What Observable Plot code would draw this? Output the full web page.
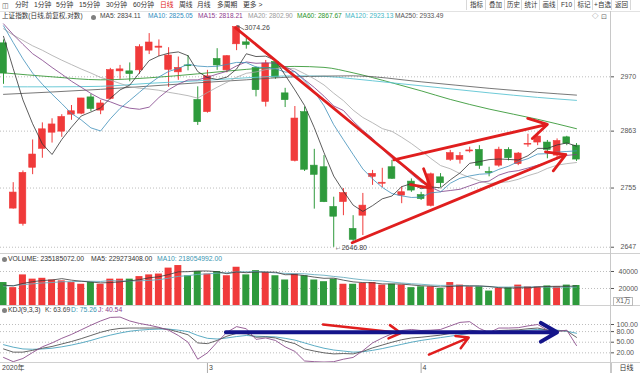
<!DOCTYPE html>
<html><head><meta charset="utf-8">
<script src="https://cdn.jsdelivr.net/npm/d3@7"></script>
<script src="https://cdn.jsdelivr.net/npm/@observablehq/plot@0.6"></script>
<style>
html,body{margin:0;padding:0;background:#fff;}
#root{position:relative;width:640px;height:373px;overflow:hidden;background:#fff;font-family:"Liberation Sans","Noto Sans CJK SC",sans-serif;}
.t{position:absolute;white-space:nowrap;line-height:1;}
.hl{position:absolute;height:1px;background:#d0d0d0;}
.vl{position:absolute;width:1px;background:#c8c8c8;}
.cell{position:absolute;top:0;height:10px;border-left:1px solid #d8d8d8;font-size:6.5px;line-height:10px;text-align:center;color:#333;}
.ico{position:absolute;width:5px;height:5px;border-radius:50%;background:#808080;}
svg{position:absolute;left:0;}
</style></head><body><div id="root"></div>
<script>
// ---------- DATA ----------
const opens  = [3038,2717,2689,2793,2829,2860,2862,2895,2897,2929,2903,2926,2981,2981,2983,3023,3029,2984,2979,2993,2924,2900,3006,2983,3036,3040,2988,2920,3000,2937,2806,2900,2797,2794,2720,2729,2680,2704,2776,2763,2794,2741,2767,2742,2722,2775,2808,2808,2824,2827,2785,2797,2827,2800,2837,2841,2841,2816,2851,2835];
const highs  = [3045,2765,2787,2846,2879,2887,2895,2913,2927,2935,2923,2987,2993,2998,3035,3058,3045,3029,3010,3013,2950,2983,3027,3013,3074.26,3048,2990,3003,3005,2947,2911,2910,2828,2816,2738,2754,2704,2745,2788,2792,2807,2757,2772,2747,2783,2782,2826,2822,2832,2835,2794,2832,2831,2822,2857,2858,2845,2848,2853,2839];
const lows   = [2955,2716,2685,2780,2811,2840,2851,2884,2895,2901,2895,2924,2965,2960,2975,3015,3011,2949,2963,2982,2874,2898,2983,2978,3023,3026,2930,2910,2965,2909,2804,2786,2716,2728,2646.80,2704,2654,2668,2760,2756,2771,2726,2747,2732,2720,2756,2805,2800,2821,2790,2776,2794,2806,2797,2832,2835,2810,2812,2835,2805];
const closes = [2976.53,2746.61,2783.29,2818.09,2866.51,2875.96,2890.49,2901.67,2926.90,2906.07,2917.01,2983.62,2984.97,2975.40,3030.15,3039.67,3031.23,3013.05,2987.93,2991.33,2880.30,2970.93,2992.90,3011.67,3071.68,3034.51,2943.29,2996.76,2968.52,2923.49,2887.43,2789.25,2779.64,2728.76,2702.13,2745.62,2660.17,2722.44,2781.59,2764.91,2772.20,2747.21,2750.30,2734.52,2780.64,2763.99,2820.76,2815.37,2825.90,2796.63,2783.05,2827.28,2811.17,2819.94,2838.49,2852.55,2827.01,2843.98,2838.80,2808.53];
const ma5  = [3052.4,2986.6,2924.0,2877.2,2838.4,2818.2,2846.8,2870.6,2892.4,2900.2,2908.4,2927.2,2943.8,2953.4,2978.2,3002.8,3012.2,3017.8,3020.4,3012.6,2980.6,2968.6,2964.6,2969.4,2985.6,3016.6,3011.0,3011.8,3003.2,2973.4,2943.8,2913.0,2869.6,2821.6,2777.4,2749.2,2723.4,2711.8,2722.4,2735.0,2740.2,2757.6,2763.2,2753.8,2757.0,2755.4,2770.2,2783.2,2801.4,2804.6,2808.4,2809.6,2808.8,2807.6,2815.8,2829.8,2829.8,2836.4,2840.2,2834.11];
const ma10 = [3074.1,3039.6,3006.3,2977.4,2955.1,2935.3,2916.7,2897.3,2884.8,2869.3,2863.3,2887.0,2907.2,2922.9,2939.2,2955.6,2969.7,2980.8,2986.9,2995.4,2991.7,2990.4,2991.2,2994.9,2999.1,2998.6,2989.8,2988.2,2986.3,2979.5,2980.2,2962.0,2940.7,2912.4,2875.4,2846.5,2818.2,2790.7,2772.0,2756.2,2744.7,2740.5,2737.5,2738.1,2746.0,2747.8,2763.9,2773.2,2777.6,2780.8,2781.9,2789.9,2796.0,2804.5,2810.2,2819.1,2819.7,2822.6,2823.9,2825.05];
const ma15 = [3078.3,3055.9,3035.9,3016.7,3003.4,2988.8,2975.3,2961.1,2949.1,2936.8,2926.3,2920.2,2912.8,2907.7,2905.6,2909.8,2928.7,2944.1,2955.4,2963.7,2963.9,2969.3,2975.4,2981.1,2992.1,3000.0,2997.3,2998.1,2997.7,2990.5,2980.3,2964.2,2948.7,2931.4,2912.1,2903.2,2882.5,2864.4,2849.1,2828.6,2811.1,2798.0,2781.5,2765.9,2756.5,2748.3,2750.4,2752.7,2759.2,2765.5,2768.0,2779.1,2785.1,2787.6,2792.5,2797.9,2803.2,2809.5,2816.4,2818.21];
const ma20 = [3068.1,3055.1,3044.0,3032.9,3023.8,3013.3,3003.6,2994.6,2985.7,2977.6,2968.7,2963.3,2956.8,2950.2,2947.2,2945.5,2943.2,2939.1,2935.9,2932.4,2927.5,2938.7,2949.2,2958.9,2969.2,2977.1,2979.8,2984.5,2986.6,2987.5,2986.0,2976.2,2966.0,2953.7,2937.3,2922.6,2904.0,2889.5,2879.2,2867.9,2862.5,2851.3,2839.1,2825.3,2810.7,2797.2,2791.1,2782.0,2774.8,2768.5,2763.3,2765.2,2766.8,2771.3,2778.1,2783.5,2791.8,2797.9,2800.8,2802.90];
const ma60Idx  = [0,5,10,15,20,25,30,33,36,40,43,46,50,55,59];
const ma60     = [2978,2970,2964,2968,2976,2985,2991,2989,2978,2958,2942,2925,2906,2886,2867.67];
const ma120Idx = [0,5,10,15,20,25,30,33,36,40,45,50,55,59];
const ma120    = [2950,2950,2951,2957,2962,2968,2972,2971,2966,2958,2948,2938,2929,2923.13];
const ma250Idx = [0,10,20,25,30,36,43,50,55,59];
const ma250    = [2935,2945,2958,2964,2970,2972,2960,2947,2939,2933.49];
// volume in units of 万 (x1万)
const volumes = [27000,21000,36000,31000,32000,30000,29000,27000,25000,27000,25000,31000,31000,31000,34000,36000,37000,44000,47000,35000,40000,37000,40000,35000,45000,36000,41000,39000,35000,30000,37000,35000,30000,28000,31000,25000,25000,26000,27000,24000,25000,24000,21000,22000,22000,20000,27000,24000,22000,22000,17000,20000,21000,24000,22000,22000,23000,22000,24000,23518.5];
const volMa5  = [24000,23000,26000,28000,29400,30000,31600,29800,28600,27600,26600,27000,27800,29000,30400,32600,33800,36400,39600,39800,40600,40600,39800,37400,39400,38600,39400,39200,39200,36200,36400,35200,33400,32000,32200,29800,27800,27000,26800,25400,25400,25200,24200,23200,22800,21800,22400,23000,23000,23000,22400,21000,20400,20800,20800,21800,22400,22600,22600,22927.3];
const volMa10 = [23000,23500,24500,25500,26500,27000,28000,28000,28500,28500,28300,29300,28800,28800,29000,29600,30400,32100,34300,35100,36600,37200,38100,38500,39600,39600,40000,39500,38300,37800,37500,37300,36300,35600,34200,33100,31500,30200,29400,28800,27600,26500,25600,25000,24100,23600,23800,23600,23100,22900,22100,21700,21700,21900,21900,22100,21700,21500,21700,21805.5];
const kdjK = [31,22,22,27,33,38,45,52,60,69,78,85,89,90,90,90,90,86,79,71,48,46,55,67,75,74,64,65,62,53,46,31,25,20,17,18,17,24,34,42,50,57,62,64,67,70,75,80,84,81,77,83,84,85,88,90,84,82,82,63.69];
const kdjD = [43,36,31,30,31,33,37,42,48,55,63,70,76,81,84,86,87,87,84,80,69,61,59,62,66,69,67,66,65,61,56,48,40,33,28,25,22,23,27,32,38,44,50,55,59,63,67,71,75,77,77,79,81,82,84,86,85,84,81,75.26];
const kdjJ = [7,-5,4,21,37,48,61,72,85,98,110,120,121,110,103,98,92,84,69,50,2,20,50,78,94,88,58,62,55,37,24,-3,-5,-6,-5,2,7,26,48,62,74,83,86,83,84,86,96,106,108,89,77,90,90,91,96,100,84,80,84,40.54];
const priceTicks = [2647, 2755, 2863, 2970];
const volTicks = [20000, 40000];
const kdjTicks = [20, 50, 80, 100];
const monthIdx = [-0.31, 21, 43];
const monthLabels = ["2020年", "3", "4"];
// hand-drawn annotation arrows, in data space (candle index, value)
const priceArrows = [
  {x1: 23.9, y1: 3070, x2: 44.0, y2: 2755},
  {x1: 40.2, y1: 2808, x2: 56.0, y2: 2876},
  {x1: 35.9, y1: 2655, x2: 57.9, y2: 2818}
];
const kdjBlueArrow = [{x1: 22.9, y1: 78, x2: 57.0, y2: 78}];
const kdjRedArrows = [
  {x1: 32.9, y1: 100, x2: 40.9, y2: 76},
  {x1: 43.8, y1: 15, x2: 47.9, y2: 63}
];

// ---------- BUILD ----------
const RED = "#f03a3a", GREEN = "#2e9a3c";
const FONT = "Liberation Sans, Noto Sans CJK SC, sans-serif";
const N = closes.length;
const idx = d3.range(N);
const candles = idx.map(i => ({i, o: opens[i], h: highs[i], l: lows[i], c: closes[i], v: volumes[i], col: closes[i] >= opens[i] ? RED : GREEN}));
const xDomain = [-0.309, 62.5];
const root = document.getElementById("root");

function txt(s, x, y, size, color, extra) {
  const e = document.createElement("div");
  e.className = "t"; e.textContent = s;
  e.style.left = x + "px"; e.style.top = y + "px";
  e.style.fontSize = size + "px"; e.style.color = color;
  if (extra) Object.assign(e.style, extra);
  root.appendChild(e); return e;
}
function box(cls, x, y, w, h, extra) {
  const e = document.createElement("div");
  e.className = cls;
  e.style.left = x + "px"; e.style.top = y + "px";
  if (w != null) e.style.width = w + "px";
  if (h != null) e.style.height = h + "px";
  if (extra) Object.assign(e.style, extra);
  root.appendChild(e); return e;
}
function place(svg, top) { svg.style.top = top + "px"; root.appendChild(svg); }

const baseStyle = {background: "transparent", fontFamily: FONT, fontSize: "7px", color: "#555", overflow: "visible"};

// main price chart
const mainPlot = Plot.plot({
  width: 640, height: 234, marginLeft: 0, marginRight: 30, marginTop: 0, marginBottom: 1,
  style: baseStyle,
  x: {domain: xDomain, axis: null},
  y: {type: "log", domain: [2635.8, 3085.2], axis: "right", ticks: priceTicks, tickFormat: d => String(d), tickSize: 3, tickPadding: 7, label: null},
  color: {type: "identity"},
  marks: [
    Plot.ruleY(priceTicks, {stroke: "#bdbdbd", strokeDasharray: "1,2"}),
    Plot.ruleX(candles, {x: "i", y1: "l", y2: "h", stroke: "col", strokeWidth: 1}),
    Plot.rect(candles, {x1: d => d.i - 0.35, x2: d => d.i + 0.35, y1: "o", y2: "c", fill: "col", stroke: "col", strokeWidth: 0.6}),
    Plot.line(ma60Idx, {x: d => d, y: (d, k) => ma60[k], stroke: "#3a9a3a", strokeWidth: 0.9, curve: "monotone-x"}),
    Plot.line(ma120Idx, {x: d => d, y: (d, k) => ma120[k], stroke: "#5cc4d2", strokeWidth: 0.9, curve: "monotone-x"}),
    Plot.line(ma250Idx, {x: d => d, y: (d, k) => ma250[k], stroke: "#555", strokeWidth: 0.8, curve: "monotone-x"}),
    Plot.line(idx, {x: d => d, y: d => ma20[d], stroke: "#a8a8a8", strokeWidth: 0.8}),
    Plot.line(idx, {x: d => d, y: d => ma15[d], stroke: "#7e3d86", strokeWidth: 0.8}),
    Plot.line(idx, {x: d => d, y: d => ma10[d], stroke: "#3f8fba", strokeWidth: 0.8}),
    Plot.line(idx, {x: d => d, y: d => ma5[d], stroke: "#333", strokeWidth: 0.8}),
    Plot.arrow(priceArrows, {x1: "x1", y1: "y1", x2: "x2", y2: "y2", stroke: "#e01e1e", strokeWidth: 2.8, headLength: 11}),
    Plot.arrow([{x1: 24.75, y1: 3066.5, x2: 24.08, y2: 3074.26}], {x1: "x1", y1: "y1", x2: "x2", y2: "y2", stroke: "#555", strokeWidth: 0.8, headLength: 3}),
    Plot.text([{i: 24, v: 3074.26, t: "3074.26"}], {x: "i", y: "v", text: "t", textAnchor: "start", dx: 8, dy: 2, fontSize: 7, fill: "#444"}),
    Plot.text([{i: 34, v: 2646.80, t: "←2646.80"}], {x: "i", y: "v", text: "t", textAnchor: "start", dx: 1, dy: 0, fontSize: 7, fill: "#444"})
  ]
});
place(mainPlot, 20);

// volume
const volPlot = Plot.plot({
  width: 640, height: 44, marginLeft: 0, marginRight: 30, marginTop: 0, marginBottom: 1,
  style: baseStyle,
  x: {domain: xDomain, axis: null},
  y: {domain: [0, 50588], axis: "right", ticks: volTicks, tickFormat: d => String(d), tickSize: 3, tickPadding: 5, label: null},
  color: {type: "identity"},
  marks: [
    Plot.ruleY(volTicks, {stroke: "#bdbdbd", strokeDasharray: "1,2"}),
    Plot.rect(candles, {x1: d => d.i - 0.36, x2: d => d.i + 0.36, y1: 0, y2: "v", fill: "col"}),
    Plot.line(idx, {x: d => d, y: d => volMa10[d], stroke: "#6aaebf", strokeWidth: 0.9}),
    Plot.line(idx, {x: d => d, y: d => volMa5[d], stroke: "#3a3a3a", strokeWidth: 0.8})
  ]
});
place(volPlot, 262);

// KDJ
const kdjPlot = Plot.plot({
  width: 640, height: 50, marginLeft: 0, marginRight: 30, marginTop: 0, marginBottom: 0,
  style: baseStyle,
  x: {domain: xDomain, axis: null},
  y: {domain: [-7.3, 133.9], axis: "right", ticks: kdjTicks, tickFormat: d => d.toFixed(2), tickSize: 3, tickPadding: 3, label: null},
  marks: [
    Plot.ruleY(kdjTicks, {stroke: "#bdbdbd", strokeDasharray: "1,2"}),
    Plot.line(idx, {x: d => d, y: d => kdjD[d], stroke: "#4aa3bd", strokeWidth: 0.9, clip: true}),
    Plot.line(idx, {x: d => d, y: d => kdjK[d], stroke: "#555", strokeWidth: 0.9, clip: true}),
    Plot.line(idx, {x: d => d, y: d => kdjJ[d], stroke: "#8c4f8c", strokeWidth: 0.9, clip: true}),
    Plot.arrow(kdjRedArrows, {x1: "x1", y1: "y1", x2: "x2", y2: "y2", stroke: "#e01e1e", strokeWidth: 2.5, headLength: 8}),
    Plot.arrow(kdjBlueArrow, {x1: "x1", y1: "y1", x2: "x2", y2: "y2", stroke: "#14148a", strokeWidth: 4, headLength: 7})
  ]
});
place(kdjPlot, 312);

// bottom time axis
const axPlot = Plot.plot({
  width: 640, height: 11, marginLeft: 0, marginRight: 30, marginTop: 0, marginBottom: 0,
  style: baseStyle,
  x: {domain: xDomain, axis: null},
  marks: [
    Plot.tickX(monthIdx.slice(1), {x: d => d, stroke: "#aaa"}),
    Plot.text(monthIdx, {x: d => d, text: (d, k) => monthLabels[k], textAnchor: "start", dx: 1.5, fontSize: 7, fill: "#444", frameAnchor: "middle"})
  ]
});
place(axPlot, 362);

// ---------- frame lines ----------
box("hl", 0, 11, 640, null, {background: "#e2e2e2"});
box("hl", 0, 253, 640, null);
box("hl", 0, 305, 640, null);
box("hl", 0, 362, 640, null);
box("vl", 610, 11, null, 362);

// ---------- toolbar ----------
txt("◫", 2, 2, 7, "#555");
const tools = [["分时",15],["1分钟",34],["5分钟",56],["15分钟",79],["30分钟",106],["60分钟",133],["日线",160],["周线",179],["月线",197],["多周期",217],["更多 >",243]];
tools.forEach(([s, x]) => txt(s, x, 2, 6.8, s === "日线" ? "#e02020" : "#333"));
const btns = ["指标","叠加","历史","统计","画线","F10","标记","+自选","返回"];
const bx = [466,485,504,521,539,557,574,592,611,630];
btns.forEach((s, k) => { const c = box("cell", bx[k], 0, bx[k+1] - bx[k], null); c.textContent = s; });
box("vl", 630, 0, null, 10, {background: "#d8d8d8"});

// ---------- price legend ----------
txt("上证指数(日线,前复权,对数)", 2, 13, 6.6, "#333");
box("ico", 91, 14.5);
const leg = [["MA5: 2834.11",100,"#444"],["MA10: 2825.05",148,"#2f8cc0"],["MA15: 2818.21",198,"#8e3a8e"],["MA20: 2802.90",248,"#999"],["MA60: 2867.67",297,"#2a942a"],["MA120: 2923.13",345,"#3fb6c6"],["MA250: 2933.49",395,"#555"]];
leg.forEach(([s, x, c]) => txt(s, x, 13, 6.6, c));
txt("◇", 592, 13, 6.5, "#666");
txt("⊡", 601, 12.5, 7, "#666");

// ---------- volume legend ----------
box("ico", 1.5, 256.5);
txt("VOLUME: 235185072.00", 8, 255.5, 6.8, "#333");
txt("MA5: 229273408.00", 91, 255.5, 6.8, "#333");
txt("MA10: 218054992.00", 157, 255.5, 6.8, "#3a96b2");
const unit = txt("X1万", 613, 297, 6.5, "#555", {border: "1px solid #bbb", padding: "0 2px", background: "#fff"});

// ---------- KDJ legend ----------
box("ico", 1.5, 308);
txt("KDJ(9,3,3)", 8, 307, 6.8, "#333");
txt("K: 63.69", 45, 307, 6.8, "#444");
txt("D: 75.26", 71, 307, 6.8, "#3a96b2");
txt("J: 40.54", 98, 307, 6.8, "#8c3f8c");

// bottom-right period box
const per = box("t", 611, 363, 29, 10, {fontSize: "7px", lineHeight: "10px", textAlign: "center", color: "#333", borderLeft: "1px solid #c8c8c8"});
per.textContent = "日线";
</script>
</body></html>
